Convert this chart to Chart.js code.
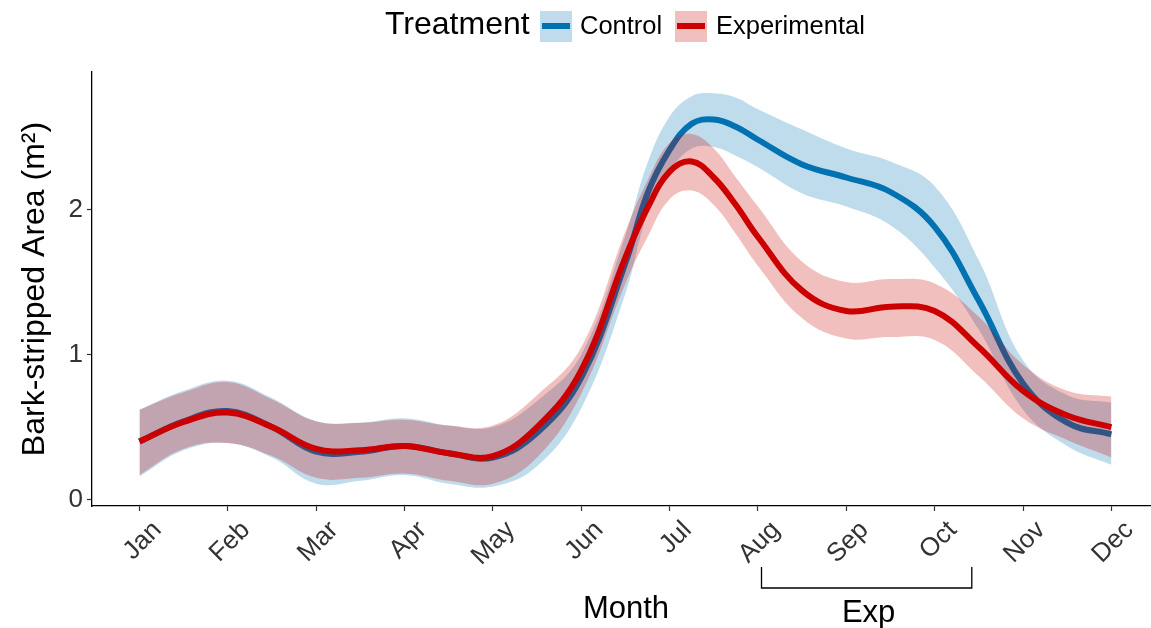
<!DOCTYPE html>
<html>
<head>
<meta charset="utf-8">
<script src="https://cdn.jsdelivr.net/npm/chart.js@4/dist/chart.umd.min.js"></script>
<style>
  html, body { margin: 0; padding: 0; background: #fff; overflow: hidden; }
  #wrap { position: relative; width: 1151px; height: 628px; overflow: hidden; }
  #box { position: absolute; left: 0; top: 0; width: 1160px; height: 628px; }
  .leg { position: absolute; font-family: "Liberation Sans", Arial, sans-serif; color: #000; white-space: nowrap; }
  .key { position: absolute; width: 32px; height: 31px; }
  .key div { position: absolute; left: 2px; right: 2px; top: 12px; height: 6px; }
</style>
</head>
<body>
<div id="wrap">
  <div id="box"><canvas id="grafico"></canvas></div>
  <span class="leg" style="left:385px; top:5px; font-size:32px;">Treatment</span>
  <div class="key" style="left:540px; top:11px; background:rgba(0,114,178,0.25);"><div style="background:#0072B2;"></div></div>
  <span class="leg" style="left:580px; top:11px; font-size:25.5px;">Control</span>
  <div class="key" style="left:675px; top:11px; background:rgba(204,0,0,0.25);"><div style="background:#CC0000;"></div></div>
  <span class="leg" style="left:716px; top:11px; font-size:25.5px;">Experimental</span>
</div>
<script>
// meses (eixo x) e posições onde a curva foi lida
const meses = ['Jan', 'Feb', 'Mar', 'Apr', 'May', 'Jun', 'Jul', 'Aug', 'Sep', 'Oct', 'Nov', 'Dec'];
const posMeses = [1, 2, 3, 4, 5, 6, 7, 8, 9, 10, 11, 12];
const xLido = [1, 1.5, 2, 2.5, 3, 3.5, 4, 4.5, 5, 5.5, 6, 6.5, 6.75, 7, 7.25, 7.5, 7.75, 8, 8.5, 9, 9.5, 10, 10.5, 11, 11.5, 12];

// Control
const controle = [0.40, 0.54, 0.61, 0.50, 0.33, 0.33, 0.37, 0.32, 0.29, 0.46, 0.84, 1.63, 2.11, 2.41, 2.59, 2.62, 2.57, 2.48, 2.31, 2.22, 2.12, 1.88, 1.37, 0.80, 0.53, 0.45];
const controleSup = [0.62, 0.75, 0.82, 0.70, 0.54, 0.53, 0.56, 0.51, 0.50, 0.68, 1.00, 1.82, 2.32, 2.64, 2.78, 2.80, 2.77, 2.69, 2.55, 2.42, 2.33, 2.16, 1.65, 0.96, 0.72, 0.67];
const controleInf = [0.16, 0.34, 0.39, 0.29, 0.11, 0.13, 0.17, 0.11, 0.09, 0.23, 0.63, 1.42, 1.97, 2.26, 2.42, 2.43, 2.37, 2.29, 2.11, 2.02, 1.89, 1.60, 1.17, 0.62, 0.37, 0.24];

// Experimental
const experimental = [0.40, 0.535, 0.60, 0.50, 0.35, 0.34, 0.37, 0.32, 0.30, 0.50, 0.89, 1.67, 2.01, 2.26, 2.33, 2.22, 2.03, 1.81, 1.44, 1.30, 1.33, 1.30, 1.05, 0.75, 0.58, 0.50];
const experimentalSup = [0.62, 0.74, 0.81, 0.69, 0.54, 0.53, 0.55, 0.51, 0.51, 0.72, 1.05, 1.85, 2.20, 2.46, 2.52, 2.42, 2.22, 2.02, 1.64, 1.50, 1.52, 1.49, 1.26, 0.93, 0.75, 0.71];
const experimentalInf = [0.17, 0.35, 0.39, 0.30, 0.15, 0.15, 0.18, 0.13, 0.11, 0.29, 0.73, 1.49, 1.81, 2.07, 2.13, 2.03, 1.83, 1.61, 1.25, 1.11, 1.12, 1.10, 0.85, 0.56, 0.41, 0.29];

const yTicks = [0, 1, 2];
const periodoExp = [8.04, 10.42]; // colchete "Exp" sob o eixo

const fonte = '"Liberation Sans", Arial, sans-serif';

function pontos(valores) {
  return xLido.map((x, i) => ({ x: x, y: valores[i] }));
}

function serie(label, valores, cor, largura, ordem, fill) {
  return {
    label: label,
    data: pontos(valores),
    borderColor: cor,
    backgroundColor: cor,
    borderWidth: largura,
    pointRadius: 0,
    tension: 0.4,
    fill: fill,
    order: ordem
  };
}

// desenha o colchete e o texto "Exp"
const colchetePlugin = {
  id: 'colchete',
  afterDraw(chart) {
    const ctx = chart.ctx;
    const x = chart.scales.x;
    const x1 = x.getPixelForValue(periodoExp[0]);
    const x2 = x.getPixelForValue(periodoExp[1]);
    ctx.save();
    ctx.strokeStyle = '#000';
    ctx.lineWidth = 1.3;
    ctx.beginPath();
    ctx.moveTo(x1, 567);
    ctx.lineTo(x1, 588);
    ctx.lineTo(x2, 588);
    ctx.lineTo(x2, 567);
    ctx.stroke();
    ctx.fillStyle = '#000';
    ctx.font = '31px ' + fonte;
    ctx.textAlign = 'center';
    ctx.textBaseline = 'alphabetic';
    ctx.fillText('Exp', (x1 + x2) / 2 + 2, 622);
    ctx.restore();
  }
};

const ctx = document.getElementById('grafico').getContext('2d');

new Chart(ctx, {
  type: 'line',
  data: {
    datasets: [
      serie('Experimental', experimental, '#CC0000', 6, 0, false),
      serie('Experimental sup', experimentalSup, 'rgba(204,0,0,0.25)', 0, 1, { target: 2 }),
      serie('Experimental inf', experimentalInf, 'rgba(204,0,0,0.25)', 0, 1, false),
      serie('Control', controle, '#0072B2', 6, 2, false),
      serie('Control sup', controleSup, 'rgba(0,114,178,0.25)', 0, 3, { target: 5 }),
      serie('Control inf', controleInf, 'rgba(0,114,178,0.25)', 0, 3, false)
    ]
  },
  options: {
    responsive: true,
    maintainAspectRatio: false,
    animation: false,
    layout: { padding: { top: 72, right: 0, left: 0, bottom: 0 } },
    plugins: {
      legend: { display: false },
      tooltip: { enabled: false }
    },
    scales: {
      x: {
        type: 'linear',
        min: 0.463,
        max: 12.55,
        afterBuildTicks: scale => { scale.ticks = posMeses.map(v => ({ value: v })); },
        afterFit: scale => { scale.height = 122; },
        ticks: {
          callback: (valor, i) => meses[i],
          minRotation: 45,
          maxRotation: 45,
          autoSkip: false,
          padding: 4,
          labelOffset: 18,
          color: '#333',
          font: { family: fonte, size: 26 }
        },
        grid: { drawOnChartArea: false, tickLength: 5, color: '#333', tickWidth: 1.2 },
        border: { display: true, color: '#000', width: 1.3 },
        title: {
          display: true,
          text: 'Month',
          color: '#000',
          font: { family: fonte, size: 31 },
          padding: { top: 0, bottom: 0 }
        }
      },
      y: {
        type: 'linear',
        min: -0.044,
        max: 2.947,
        afterBuildTicks: scale => { scale.ticks = yTicks.map(v => ({ value: v })); },
        afterFit: scale => { scale.width = 92; },
        ticks: {
          padding: 4,
          color: '#333',
          font: { family: fonte, size: 26 }
        },
        grid: { drawOnChartArea: false, tickLength: 5, color: '#333', tickWidth: 1.2 },
        border: { display: true, color: '#000', width: 1.3 },
        title: {
          display: true,
          text: 'Bark-stripped Area (m²)',
          color: '#000',
          font: { family: fonte, size: 32 },
          padding: { top: 16, bottom: 0 }
        }
      }
    }
  },
  plugins: [colchetePlugin]
});
</script>
</body>
</html>
